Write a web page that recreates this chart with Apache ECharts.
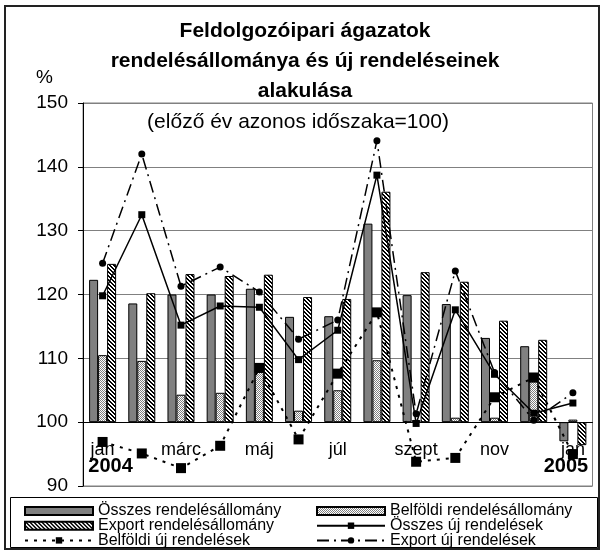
<!DOCTYPE html>
<html>
<head>
<meta charset="utf-8">
<script src="https://cdn.jsdelivr.net/npm/echarts@6/dist/echarts.min.js"></script>
<style>
  html, body { margin: 0; padding: 0; background: #fff; }
  #chart { width: 605px; height: 551px; }
</style>
</head>
<body>
<div id="chart"></div>
<script>
// hónapok 2004 jan - 2005 jan
const months = ['jan', 'febr', 'márc', 'ápr', 'máj', 'jún', 'júl', 'aug', 'szept', 'okt', 'nov', 'dec', 'jan']
const yTicks = [90, 100, 110, 120, 130, 140, 150]

// rendelésállomány (oszlopok)
const osszesAllomany = [122.3, 118.6, 120.0, 120.0, 120.9, 116.5, 116.6, 131.1, 119.9, 118.5, 113.2, 111.9, 97.0]
const belfoldiAllomany = [110.5, 109.6, 104.3, 104.6, 107.9, 101.8, 105.0, 109.7, 100.3, 100.7, 100.7, 106.4, 100.4]
const exportAllomany = [124.8, 120.2, 123.2, 122.9, 123.1, 119.6, 119.3, 136.1, 123.5, 122.0, 115.9, 112.9, 96.4]

// új rendelések (vonalak)
const osszesUj = [119.8, 132.5, 115.2, 118.2, 118.0, 109.8, 114.4, 138.7, 99.8, 117.6, 107.5, 101.4, 103.0]
const belfoldiUj = [96.9, 95.1, 92.8, 96.3, 108.5, 97.3, 107.6, 117.2, 93.8, 94.4, 103.9, 107.0, 95.0]
const exportUj = [124.9, 142.0, 121.3, 124.3, 120.4, 113.0, 116.0, 144.1, 101.3, 123.7, 107.8, 100.3, 104.6]

const BASE = 100
const FONT = '"Liberation Sans", Arial, sans-serif'
const shift = arr => arr.map(v => +(v - BASE).toFixed(2))

// minták a kitöltéshez
function makePattern (size, draw) {
  const c = document.createElement('canvas')
  c.width = size
  c.height = size
  const ctx = c.getContext('2d')
  ctx.fillStyle = '#fff'
  ctx.fillRect(0, 0, size, size)
  draw(ctx)
  return c
}
const dotPattern = makePattern(2, ctx => {
  ctx.fillStyle = '#808080'
  ctx.fillRect(0, 0, 1, 1)
  ctx.fillRect(1, 1, 1, 1)
})
const hatchPattern = makePattern(4, ctx => {
  ctx.fillStyle = '#000'
  for (let i = 0; i < 4; i++) {
    ctx.fillRect(i, i, 1, 1)
    ctx.fillRect((i + 1) % 4, i, 1, 1)
  }
})

const barBase = {
  type: 'bar',
  barWidth: 9,
  barGap: '0%',
  z: 2
}
const lineBase = {
  type: 'line',
  z: 5,
  color: '#000',
  symbolKeepAspect: true
}

const legendBase = {
  orient: 'vertical',
  top: 503,
  height: 60,
  itemWidth: 68,
  itemHeight: 8,
  itemGap: -1.3,
  padding: 0,
  textStyle: { fontFamily: FONT, fontSize: 16, color: '#000', lineHeight: 14 }
}

const gridTop = 103
const gridBottom = 65
const plotH = 551 - gridTop - gridBottom
// x tengely a 100-as vonalon
const axisShift = -plotH * (BASE - yTicks[0]) / (yTicks[yTicks.length - 1] - yTicks[0])

const chart = echarts.init(document.getElementById('chart'))
chart.setOption({
  animation: false,
  textStyle: { fontFamily: FONT },
  title: {
    text: 'Feldolgozóipari ágazatok\nrendelésállománya és új rendeléseinek\nalakulása',
    left: 300,
    textAlign: 'center',
    top: 11,
    textStyle: { fontFamily: FONT, fontSize: 21, fontWeight: 'bold', color: '#000', lineHeight: 30 }
  },
  graphic: [
    { type: 'rect', shape: { x: 5, y: 6, width: 594, height: 543 }, style: { fill: 'none', stroke: '#222', lineWidth: 2 }, z: 0 },
    { type: 'rect', shape: { x: 10.5, y: 497.5, width: 587, height: 50 }, style: { fill: 'none', stroke: '#000', lineWidth: 1 }, z: 0 },
    { type: 'text', left: 36, top: 68, style: { text: '%', font: '19px ' + FONT, fill: '#000' } },
    { type: 'text', x: 298, y: 122, style: { text: '(előző év azonos időszaka=100)', font: '21px ' + FONT, fill: '#000', align: 'center', verticalAlign: 'middle' }, z: 10 }
  ],
  legend: [
    Object.assign({}, legendBase, {
      left: 24,
      data: [
        { name: 'Összes rendelésállomány', icon: 'rect' },
        { name: 'Export rendelésállomány', icon: 'rect' },
        'Belföldi új rendelések'
      ]
    }),
    Object.assign({}, legendBase, {
      left: 316,
      data: [
        { name: 'Belföldi rendelésállomány', icon: 'rect' },
        'Összes új rendelések',
        'Export új rendelések'
      ]
    })
  ],
  grid: { left: 83, right: 9, top: gridTop, bottom: gridBottom, show: true, borderColor: '#808080', borderWidth: 1 },
  xAxis: {
    type: 'category',
    data: months,
    offset: axisShift,
    axisLine: { onZero: false, lineStyle: { color: '#000', width: 1 } },
    axisTick: { length: 5, lineStyle: { color: '#000' } },
    axisLabel: {
      interval: 1,
      margin: 20,
      fontSize: 18,
      lineHeight: 16,
      color: '#000',
      formatter: (v, i) => {
        if (i === 0) return v + '\n{y0|2004}'
        if (i === months.length - 1) return v + '\n{y1|2005}'
        return v
      },
      rich: {
        y0: { fontSize: 20, fontWeight: 'bold', lineHeight: 16, padding: [0, 0, 0, 16] },
        y1: { fontSize: 20, fontWeight: 'bold', lineHeight: 16, padding: [0, 14, 0, 0] }
      }
    }
  },
  yAxis: {
    type: 'value',
    min: yTicks[0] - BASE,
    max: yTicks[yTicks.length - 1] - BASE,
    interval: 10,
    axisLine: { show: true, lineStyle: { color: '#000' } },
    axisTick: { show: true, length: 5, lineStyle: { color: '#000' } },
    axisLabel: { fontSize: 19, color: '#000', margin: 15, formatter: v => String(v + BASE) },
    splitLine: { lineStyle: { color: '#808080', width: 1 } }
  },
  series: [
    Object.assign({}, barBase, {
      name: 'Összes rendelésállomány',
      data: shift(osszesAllomany),
      itemStyle: { color: '#808080', borderColor: '#000', borderWidth: 1 }
    }),
    Object.assign({}, barBase, {
      name: 'Belföldi rendelésállomány',
      data: shift(belfoldiAllomany),
      itemStyle: { color: { image: dotPattern, repeat: 'repeat' }, borderColor: '#000', borderWidth: 1 }
    }),
    Object.assign({}, barBase, {
      name: 'Export rendelésállomány',
      data: shift(exportAllomany),
      itemStyle: { color: { image: hatchPattern, repeat: 'repeat' }, borderColor: '#000', borderWidth: 1 }
    }),
    Object.assign({}, lineBase, {
      name: 'Összes új rendelések',
      data: shift(osszesUj),
      symbol: 'rect',
      symbolSize: 7,
      lineStyle: { color: '#000', width: 1.5, type: 'solid' },
      itemStyle: { color: '#000' }
    }),
    Object.assign({}, lineBase, {
      name: 'Belföldi új rendelések',
      data: shift(belfoldiUj),
      symbol: 'rect',
      symbolSize: 10,
      lineStyle: { color: '#000', width: 2, type: [3, 6] },
      itemStyle: { color: '#000' }
    }),
    Object.assign({}, lineBase, {
      name: 'Export új rendelések',
      data: shift(exportUj),
      symbol: 'circle',
      symbolSize: 7,
      lineStyle: { color: '#000', width: 1.5, type: [12, 5, 2, 5] },
      itemStyle: { color: '#000' }
    })
  ]
})
</script>
</body>
</html>
